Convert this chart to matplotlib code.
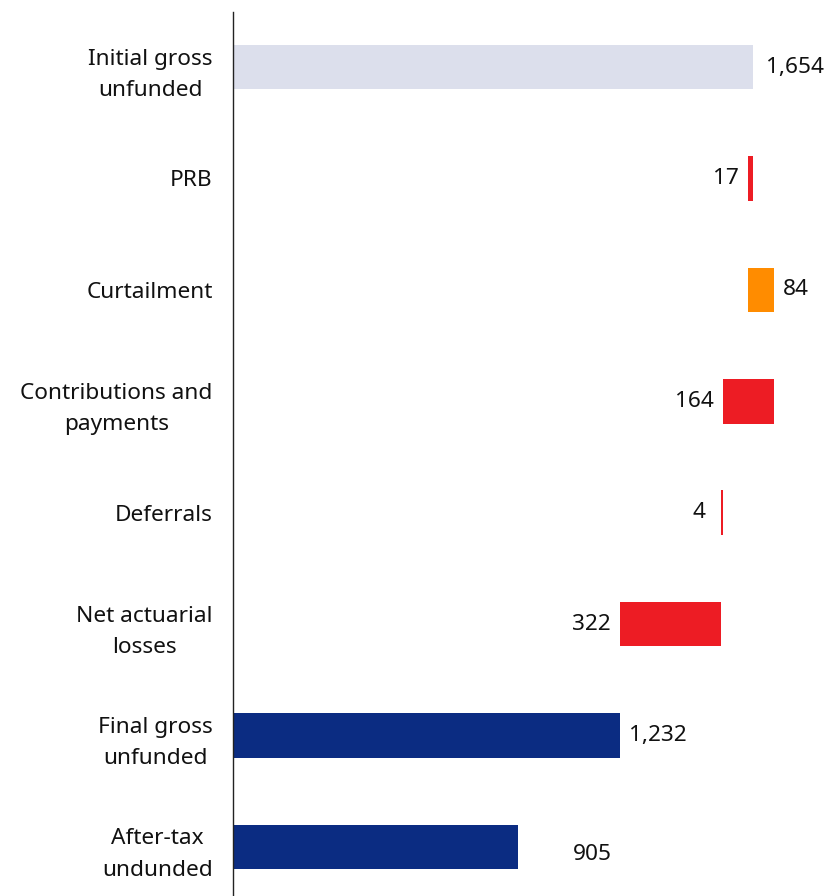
import matplotlib
import matplotlib.pyplot as plt
import numpy as np
matplotlib.use('Agg')

plt.rcParams['font.family'] = ['Noto Sans', 'DejaVu Sans']

# Waterfall data (top to bottom)
categories = ["Initial gross\nunfunded", "PRB", "Curtailment", "Contributions and\npayments",
              "Deferrals", "Net actuarial\nlosses", "Final gross\nunfunded", "After-tax\nundunded"]
values = [1654, -17, 84, -164, -4, -322, 1232, 905]
kinds = ["total", "step", "step", "step", "step", "step", "total", "total"]
labels = ["1,654", "17", "84", "164", "4", "322", "1,232", "905"]

colors = {"start": "#DCDFEC", "down": "#ED1C24", "up": "#FF8C00", "end": "#0B2C82"}

lefts, widths, cols = [], [], []
running = 0
for i, (v, k) in enumerate(zip(values, kinds)):
    if k == "total":
        lefts.append(0)
        widths.append(v)
        running = v
        cols.append(colors["start"] if i == 0 else colors["end"])
    else:
        new = running + v
        lefts.append(min(running, new))
        widths.append(abs(v))
        cols.append(colors["up"] if v > 0 else colors["down"])
        running = new

fig = plt.figure(figsize=(8.3, 8.96), dpi=100)
ax = fig.add_axes([233 / 830, 0, 1 - 233 / 830, 1 - 12 / 896])

y = np.arange(len(categories))
ax.barh(y, widths, left=lefts, height=0.40, color=cols)

fs = 16.3
# value labels: decreases on the left, others on the right
for i, (v, k) in enumerate(zip(values, kinds)):
    if k == "step" and v < 0:
        x = lefts[i]
        dx, ha = -9, "right"
        if i == 4:
            dx = -16
    else:
        x = lefts[i] + widths[i]
        dx, ha = 9, "left"
        if i == 0:
            dx = 13
    dy = 0
    if i == 7:
        dx, dy = 55, -8
    ax.annotate(labels[i], (x, i), xytext=(dx * 0.72, dy * 0.72), textcoords="offset points",
                ha=ha, va="center", fontsize=fs, color="#111111")

ax.set_xlim(0, (830 - 233) / 0.3144)
ax.set_ylim(7.44, -0.494)
ax.set_yticks(y)
ax.set_yticklabels(categories, fontsize=fs, color="#111111", linespacing=1.65,
                   multialignment="center")
ax.tick_params(axis="y", length=0, pad=14.5)
ax.set_xticks([])
for s in ["top", "right", "bottom"]:
    ax.spines[s].set_visible(False)
ax.spines["left"].set_linewidth(1.0)
ax.spines["left"].set_color("#222222")

fig.savefig("out.png", dpi=100)
